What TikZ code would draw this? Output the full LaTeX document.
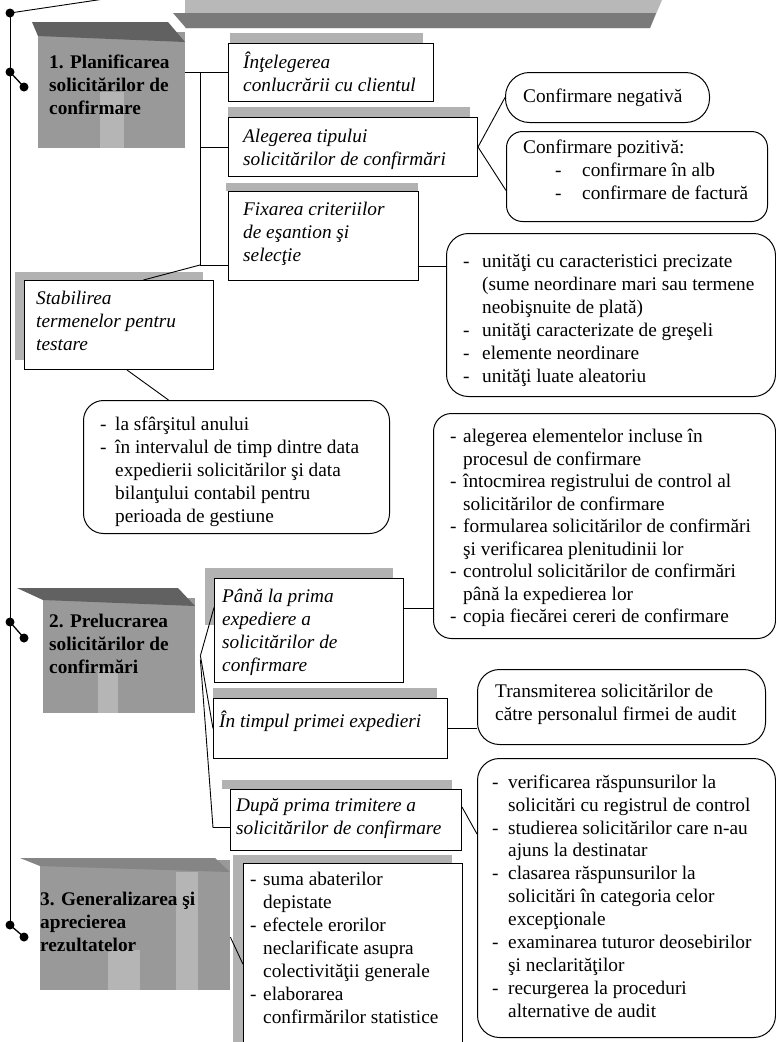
\documentclass[tikz,border=0pt]{standalone}
\usepackage{fontspec}
\setmainfont{Liberation Serif}
\usetikzlibrary{calc}
% list helpers: a dash in a fixed-width slot, and the matching indent
\newcommand\dashitem[1]{\makebox[#1][l]{-}}
\newcommand\contline[1]{\hspace*{#1}}
\begin{document}
\begin{tikzpicture}[x=1pt,y=-1pt,
  txt/.style={anchor=north west, inner sep=0pt, align=left, font=\fontsize{19.3}{23}\selectfont},
  ital/.style={txt, font=\fontsize{19.3}{23}\selectfont\itshape},
  ttl/.style={txt, font=\fontsize{19.3}{23}\selectfont\bfseries},
  sqbox/.style={draw, line width=1pt, fill=white, anchor=north west, inner sep=0pt},
  rndbox/.style={draw, line width=1pt, fill=white, anchor=north west, inner sep=0pt, rounded corners=20pt},
  blk/.style={fill=black!40, draw=none, anchor=north west, inner sep=0pt},
  band/.style={fill=black!62},
  haze/.style={fill=black!30},
  soft/.style={fill=black!29},
  link/.style={line width=0.9pt},
  dot/.style={circle, fill=black, inner sep=0pt, minimum size=9pt},
]
\useasboundingbox (0,0) rectangle (776,1042);
\fill[white] (0,0) rectangle (776,1042);

% ---- grey banner along the top
\fill[black!28] (185,0) -- (662,0) -- (650,28) -- (185,28) -- cycle;
\fill[black!52] (173,13) -- (656,13) -- (650,28) -- (186,28) -- cycle;

% ---- stage blocks (shaded)
\node[blk, minimum width=147pt, minimum height=116pt] (b1) at (38,32) {};
\fill[band] (32,22) -- (168,22) -- (185,42) -- (38,36) -- cycle;
\fill[soft] (100,92) rectangle (124,148);

\node[blk, minimum width=152pt, minimum height=115pt] (b2) at (43,598) {};
\fill[band] (17,588) -- (178,588) -- (195,606) -- (43,600) -- cycle;
\fill[soft] (98,668) rectangle (118,713);

\node[blk, minimum width=190pt, minimum height=130pt] (b3) at (40,860) {};
\fill[black!48] (20,858) -- (215,858) -- (230,872) -- (40,866) -- cycle;
\fill[soft] (108,950) rectangle (140,990);
\fill[soft] (176,872) rectangle (198,990);

% ---- shadows behind the boxes
\fill[haze] (230,33) rectangle (423,43);
\fill[haze] (228,107) rectangle (470,117);
\fill[haze] (226,183) rectangle (418,191);
\fill[haze] (15,272) rectangle (203,280);
\fill[haze] (15,272) rectangle (24,360);
\fill[haze] (205,568) rectangle (393,578);
\fill[haze] (205,568) rectangle (214,625);
\fill[haze] (213,688) rectangle (437,698);
\fill[haze] (222,780) rectangle (452,789);
\fill[haze] (233,855) rectangle (452,863);
\fill[haze] (233,855) rectangle (243,1042);

% ---- rectangular boxes
\node[sqbox, minimum width=205pt, minimum height=58pt] (int) at (228,43) {};
\node[sqbox, minimum width=249pt, minimum height=59pt] (aleg) at (228,117) {};
\node[sqbox, minimum width=190pt, minimum height=89pt] (fix) at (228,191) {};
\node[sqbox, minimum width=189pt, minimum height=89pt] (stab) at (24,280) {};
\node[sqbox, minimum width=189pt, minimum height=104pt] (pana) at (214,578) {};
\node[sqbox, minimum width=234pt, minimum height=60pt] (timp) at (213,698) {};
\node[sqbox, minimum width=231pt, minimum height=61pt] (dupa) at (230,789) {};
\node[anchor=north west, inner sep=0pt, fill=white, minimum width=219pt, minimum height=179pt] (suma) at (243,863) {};
\draw[line width=1pt] (suma.south west) -- (suma.north west) -- (suma.north east) -- (suma.south east);

% ---- rounded boxes
\node[rndbox, rounded corners=24pt, minimum width=204pt, minimum height=50pt] (neg) at (505,72) {};
\node[rndbox, rounded corners=16pt, minimum width=261pt, minimum height=90pt] (poz) at (506,131) {};
\node[rndbox, rounded corners=22pt, minimum width=329pt, minimum height=163pt] (crit) at (446,233) {};
\node[rndbox, minimum width=306pt, minimum height=133pt] (term) at (83,400) {};
\node[rndbox, rounded corners=18pt, minimum width=342pt, minimum height=225pt] (prep) at (433,413) {};
\node[rndbox, rounded corners=22pt, minimum width=288pt, minimum height=75pt] (trans) at (477,669) {};
\node[rndbox, rounded corners=22pt, minimum width=298pt, minimum height=279pt] (verif) at (477,758) {};

% ---- texts
\node[ttl] (b1t) at (49,52) {\strut 1. Planificarea\\solicitărilor de\\confirmare};
\node[ttl] (b2t) at (49,611) {\strut 2. Prelucrarea\\solicitărilor de\\confirmări};
\node[ttl] (b3t) at (40,889) {\strut 3. Generalizarea şi\\aprecierea\\rezultatelor};

\node[ital] (intt) at (243,52) {\strut Înţelegerea\\conlucrării cu clientul};
\node[ital] (alegt) at (243,126) {\strut Alegerea tipului\\solicitărilor de confirmări};
\node[ital] (fixt) at (243,199) {\strut Fixarea criteriilor\\de eşantion şi\\selecţie};
\node[ital] (stabt) at (36,288) {\strut Stabilirea\\termenelor pentru\\testare};
\node[ital] (panat) at (222,586) {\strut Până la prima\\expediere a\\solicitărilor de\\confirmare};
\node[ital] (timpt) at (219,711) {\strut În timpul primei expedieri};
\node[ital] (dupat) at (236,795) {\strut După prima trimitere a\\solicitărilor de confirmare};

\node[txt] (negt) at (523,86) {\strut Confirmare negativă};
\node[txt] (pozt) at (523,137) {\strut Confirmare pozitivă:\\
  \contline{32pt}\makebox[27pt][l]{-}confirmare în alb\\
  \contline{32pt}\makebox[27pt][l]{-}confirmare de factură};
\node[txt] (critt) at (463,251) {\strut\dashitem{19pt}unităţi cu caracteristici precizate\\
  \contline{19pt}(sume neordinare mari sau termene\\
  \contline{19pt}neobişnuite de plată)\\
  \dashitem{19pt}unităţi caracterizate de greşeli\\
  \dashitem{19pt}elemente neordinare\\
  \dashitem{19pt}unităţi luate aleatoriu};
\node[txt] (termt) at (100,414) {\strut\dashitem{15pt}la sfârşitul anului\\
  \dashitem{15pt}în intervalul de timp dintre data\\
  \contline{15pt}expedierii solicitărilor şi data\\
  \contline{15pt}bilanţului contabil pentru\\
  \contline{15pt}perioada de gestiune};
\node[txt, font=\fontsize{19.3}{22.5}\selectfont] (prept) at (450,427) {\strut\dashitem{13pt}alegerea elementelor incluse în\\
  \contline{13pt}procesul de confirmare\\
  \dashitem{13pt}întocmirea registrului de control al\\
  \contline{13pt}solicitărilor de confirmare\\
  \dashitem{13pt}formularea solicitărilor de confirmări\\
  \contline{13pt}şi verificarea plenitudinii lor\\
  \dashitem{13pt}controlul solicitărilor de confirmări\\
  \contline{13pt}până la expedierea lor\\
  \dashitem{13pt}copia fiecărei cereri de confirmare};
\node[txt] (transt) at (495,681) {\strut Transmiterea solicitărilor de\\către personalul firmei de audit};
\node[txt, font=\fontsize{19.3}{22.9}\selectfont] (veritt) at (492,772) {\strut\dashitem{16pt}verificarea răspunsurilor la\\
  \contline{16pt}solicitări cu registrul de control\\
  \dashitem{16pt}studierea solicitărilor care n-au\\
  \contline{16pt}ajuns la destinatar\\
  \dashitem{16pt}clasarea răspunsurilor la\\
  \contline{16pt}solicitări în categoria celor\\
  \contline{16pt}excepţionale\\
  \dashitem{16pt}examinarea tuturor deosebirilor\\
  \contline{16pt}şi neclarităţilor\\
  \dashitem{16pt}recurgerea la proceduri\\
  \contline{16pt}alternative de audit};
\node[txt] (sumat) at (250,869) {\strut\dashitem{13pt}suma abaterilor\\
  \contline{13pt}depistate\\
  \dashitem{13pt}efectele erorilor\\
  \contline{13pt}neclarificate asupra\\
  \contline{13pt}colectivităţii generale\\
  \dashitem{13pt}elaborarea\\
  \contline{13pt}confirmărilor statistice};

% ---- spine with its dots
\node[dot] (d0) at (10,13) {};
\node[dot] (d1a) at (10,72) {};
\node[dot] (d1b) at (24,87) {};
\node[dot] (d2a) at (10,622) {};
\node[dot] (d2b) at (24,638) {};
\node[dot] (d3a) at (10,925) {};
\node[dot] (d3b) at (24,937) {};
\coordinate (topend) at (104,-1);
\draw[link] (d0.center) -- (topend);
\draw[link] (d0.center) -- (d3a.center);
\draw[link, line width=1.3pt] (d1a.center) -- (d1b.center);
\draw[link, line width=1.3pt] (d2a.center) -- (d2b.center);
\draw[link, line width=1.3pt] (d3a.center) -- (d3b.center);

% ---- stage 1 connectors
\coordinate (bus1top) at (200,72);
\coordinate (bus1bot) at (200,265);
\draw[link] (b1.east |- int.west) -- (int.west);
\draw[link] (bus1top) -- (bus1bot);
\draw[link] (bus1top |- aleg.west) -- (aleg.west);
\draw[link] (bus1bot) -- (bus1bot -| fix.west);
\draw[link] (bus1bot) -- ([xshift=24.5pt]stab.north);
\draw[link] (neg.west) -- (aleg.east) -- ([yshift=-14pt]poz.west);
\coordinate (fixout) at ([yshift=15pt]fix.south east);
\draw[link] (fixout) -- (fixout -| crit.west);
\draw[link] ([xshift=8pt]stab.south) -- ([xshift=-68pt]term.north);

% ---- stage 2 connectors
\coordinate (j2) at ([xshift=5pt]b2.east);
\coordinate (dupain) at ([yshift=-7.5pt]dupa.west);
\draw[link] (j2) -- ([yshift=23pt]pana.west);
\draw[link] (j2) -- (timp.west);
\draw[link] ([yshift=-4pt]j2) -- ([xshift=-17pt]dupain) -- (dupain);
\coordinate (panaout) at ([yshift=22pt]pana.east);
\draw[link] (panaout) -- (panaout -| prep.west);
\draw[link] (timp.east) -- (timp.east -| trans.west);
\draw[link] ([yshift=13pt]dupa.east) -- ([yshift=64pt]verif.west);

% ---- stage 3 connector
\draw[link] ([yshift=-12pt]b3.east) -- ([yshift=-11.5pt]suma.west);
\end{tikzpicture}
\end{document}
